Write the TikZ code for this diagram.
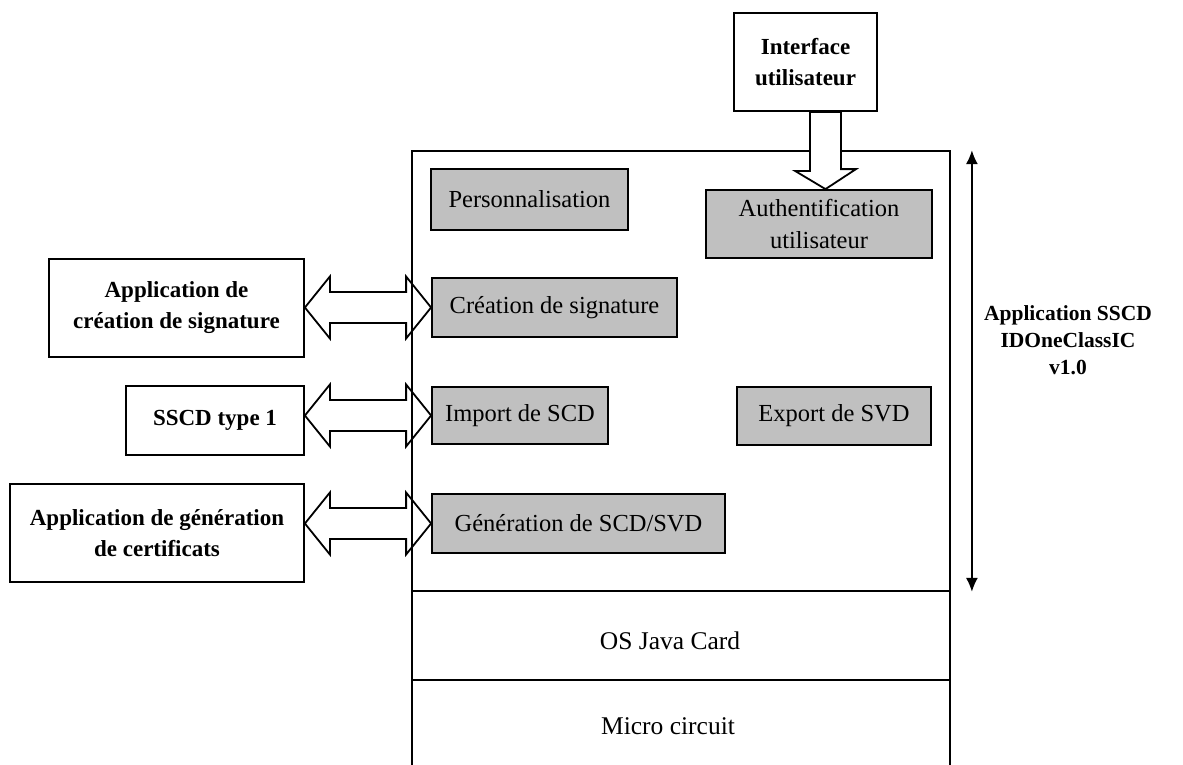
\documentclass[tikz,border=0pt]{standalone}
\usepackage{fontspec}
\setmainfont{Liberation Serif}
\usepackage{xcolor}
\usepackage{tikz}
\usetikzlibrary{
  arrows.meta,
  calc
}
\definecolor{modgrey}{HTML}{C0C0C0}
\tikzset{
  extbox/.style={
    draw=black,
    fill=white,
    line width=1.8pt,
    inner sep=0pt,
    align=center,
    font=\fontsize{23}{31}\selectfont\bfseries,
  },
  modbox/.style={
    draw=black,
    fill=modgrey,
    line width=1.8pt,
    inner sep=0pt,
    align=center,
    font=\fontsize{24.5}{32}\selectfont,
  },
  layerbox/.style={
    draw=black,
    line width=1.8pt,
    inner sep=0pt,
    minimum width=538pt,
  },
  layertext/.style={
    inner sep=0pt,
    font=\fontsize{25.5}{30}\selectfont,
  },
  hollow/.style={
    draw=black,
    line width=1.8pt,
    line join=miter,
  },
  span/.style={
    {Latex[length=14pt,width=12pt]}-{Latex[length=14pt,width=12pt]},
    line width=1.8pt,
  },
  tag/.style={
    align=center,
    font=\fontsize{21.5}{27}\selectfont\bfseries,
  },
}

\begin{document}
\begin{tikzpicture}[
  x=1pt, y=-1pt,
]
  \useasboundingbox (0,0) rectangle (1183,765);

  % --- Layers of the card ---
  \node[layerbox, minimum height=440pt] (applayer) at (681,371) {};
  \node[layerbox, minimum height=89pt]  (oslayer)  at (681,635.5) {};
  \node[layerbox, minimum height=94pt]  (chip)     at (681,727) {};
  \node[layertext] (ostext)   at (670,641) {OS Java Card};
  \node[layertext] (chiptext) at (668,726) {Micro circuit};

  % --- Modules of the application ---
  \node[modbox, minimum width=197pt, minimum height=61pt] (perso)  at (529.5,199.5) {Personnalisation};
  \node[modbox, minimum width=226pt, minimum height=68pt] (auth)   at (819,224) {Authentification\\utilisateur};
  \node[modbox, minimum width=245pt, minimum height=59pt] (sig)    at (554.5,307.5) {Création de signature};
  \node[modbox, minimum width=176pt, minimum height=57pt] (import) at (520,415.5) {Import de SCD};
  \node[modbox, minimum width=194pt, minimum height=58pt] (export) at (834,416) {Export de SVD};
  \node[modbox, minimum width=293pt, minimum height=59pt] (gen)    at (578.5,523.5) {Génération de SCD/SVD};

  % --- External parties ---
  \node[extbox, minimum width=143pt, minimum height=98pt] (iface)  at (805.5,62) {Interface\\utilisateur};
  \node[extbox, minimum width=255pt, minimum height=98pt] (appsig) at (176.5,308) {Application de\\création de signature};
  \node[extbox, minimum width=178pt, minimum height=69pt] (sscd)   at (215,420.5) {SSCD type 1};
  \node[extbox, minimum width=294pt, minimum height=98pt] (appgen) at (157,533) {Application de génération\\de certificats};

  % --- Exchanges ---
  \foreach \a/\b in {appsig/sig, sscd/import, appgen/gen}{
    \draw[hollow] (\a.east |- \b.west) -- ++(25,-31) -- ++(0,15.5)
      -- ($(\b.west)+(-25,-15.5)$) -- ++(0,-15.5) -- (\b.west)
      -- ++(-25,31) -- ++(0,-15.5)
      -- ($(\a.east |- \b.west)+(25,15.5)$) -- ++(0,15.5) -- cycle;
  }

  \coordinate (down) at ([xshift=20pt]iface.south);
  \draw[hollow, fill=white] ([xshift=-15.5pt]down) -- ++(0,59) -- ++(-15,0)
    -- (down |- auth.north) -- ++(30.5,-20) -- ++(-15,0) -- ([xshift=15.5pt]down) -- cycle;

  % --- Extent of the application ---
  \draw[span] ([xshift=21pt]applayer.north east) -- ([xshift=21pt]applayer.south east);
  \node[tag] (name) at (1068,340) {Application SSCD\\IDOneClassIC\\v1.0};
\end{tikzpicture}
\end{document}
